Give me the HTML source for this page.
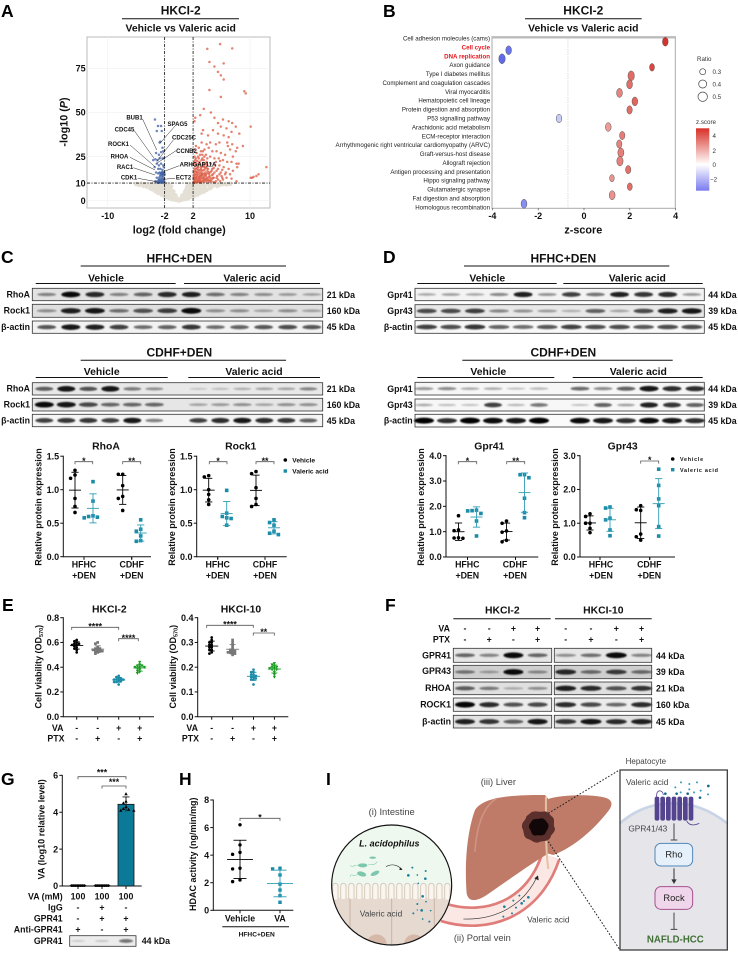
<!DOCTYPE html>
<html lang="en">
<head>
<meta charset="utf-8">
<title>Valeric acid figure panels</title>
<style>
html,body{margin:0;padding:0;background:#fff}
svg{display:block}
text{font-family:"Liberation Sans",sans-serif;fill:#111}
.letter{font-size:17.5px;font-weight:700;fill:#000}
.t12{font-size:12px;font-weight:700;text-anchor:middle}
.t10{font-size:10.4px;font-weight:700;text-anchor:middle}
.lab{font-size:8.8px;font-weight:700}
.r{text-anchor:end}
.m{text-anchor:middle}
.tick{font-size:9px;font-weight:700}
.ax{font-size:10.8px;font-weight:700;text-anchor:middle}
.ylab{font-size:9px;font-weight:700;text-anchor:middle}
.path{font-size:6.15px;text-anchor:end;fill:#222}
.gene{font-size:6px;font-weight:700;text-anchor:middle}
.small{font-size:6.6px;font-weight:700}
.leg{font-size:6.2px;fill:#333}
.ill{font-size:28px;fill:#444}
.rule{stroke:#111;stroke-width:1;fill:none}
</style>
</head>
<body>
<svg id="fig" xmlns="http://www.w3.org/2000/svg" width="738" height="953" viewBox="0 0 738 953">
<defs>
<filter id="bandBlur" x="-5%" y="-30%" width="110%" height="160%"><feGaussianBlur stdDeviation="0.75"/></filter>
<linearGradient id="zGrad" x1="0" y1="0" x2="0" y2="1">
<stop offset="0" stop-color="#d73027"/><stop offset="0.58" stop-color="#ffffff"/><stop offset="1" stop-color="#7b7bef"/>
</linearGradient>
<clipPath id="gutClip"><circle cx="275" cy="450" r="180"/></clipPath>
</defs>
<rect width="738" height="953" fill="#fff"/>

<!-- Panel letters -->
<text class="letter" x="1" y="17">A</text>
<text class="letter" x="383" y="17">B</text>
<text class="letter" x="1" y="263">C</text>
<text class="letter" x="383" y="263">D</text>
<text class="letter" x="2" y="611">E</text>
<text class="letter" x="385" y="611">F</text>
<text class="letter" x="1" y="785">G</text>
<text class="letter" x="179" y="785">H</text>
<text class="letter" x="326" y="785">I</text>

<!-- Panel A headings -->
<g>
<text class="t12" x="180.7" y="14.5">HKCI-2</text>
<line class="rule" x1="122" x2="239" y1="18.7" y2="18.7"/>
<text class="t10" x="180.7" y="31.5">Vehicle vs Valeric acid</text>
<text class="ax" x="179.3" y="233.5">log2 (fold change)</text>
<text class="ax" transform="translate(67.5,122) rotate(-90)">-log10 (<tspan font-style="italic">P</tspan>)</text>
</g>
<g id="volcano"></g>
<g id="volcanoGenes">
<text class="gene" x="134.5" y="119.5">BUB1</text>
<text class="gene" x="177.5" y="126">SPAG5</text>
<text class="gene" x="124.5" y="131.5">CDC45</text>
<text class="gene" x="184" y="139.5">CDC25C</text>
<text class="gene" x="118.5" y="146">ROCK1</text>
<text class="gene" x="186.5" y="153">CCNB2</text>
<text class="gene" x="119.5" y="158.5">RHOA</text>
<text class="gene" x="198" y="166.5">ARHGAP11A</text>
<text class="gene" x="125" y="169">RAC1</text>
<text class="gene" x="183.5" y="179.5">ECT2</text>
<text class="gene" x="129" y="179.5">CDK1</text>
</g>

<!-- Panel B headings -->
<g>
<text class="t12" x="583.3" y="14.5">HKCI-2</text>
<line class="rule" x1="525" x2="641.7" y1="18.7" y2="18.7"/>
<text class="t10" x="583.3" y="31.5">Vehicle vs Valeric acid</text>
<text class="ax" x="583.3" y="233.5">z-score</text>
</g>
<g id="bubble"></g>
<g>
<text class="leg" x="697" y="61">Ratio</text>
<circle cx="702.7" cy="71.7" r="3" fill="#fff" stroke="#444" stroke-width=".7"/>
<circle cx="702.7" cy="84" r="4" fill="#fff" stroke="#444" stroke-width=".7"/>
<circle cx="702.7" cy="96.7" r="4.7" fill="#fff" stroke="#444" stroke-width=".7"/>
<text class="leg" x="712.5" y="74">0.3</text>
<text class="leg" x="712.5" y="86.3">0.4</text>
<text class="leg" x="712.5" y="99">0.5</text>
</g>
<g>
<text class="leg" x="696" y="124">z.score</text>
<rect x="696" y="128.3" width="13.3" height="62.4" fill="url(#zGrad)"/>
<text class="leg" x="712.5" y="138.2">4</text>
<text class="leg" x="712.5" y="152.9">2</text>
<text class="leg" x="712.5" y="167.2">0</text>
<text class="leg" x="710" y="181.5">−2</text>
</g>

<!-- Panel C text -->
<g>
<text class="t12" x="179.3" y="262.5">HFHC+DEN</text>
<line class="rule" x1="80.7" x2="286" y1="266" y2="266"/>
<text class="t10" x="106" y="281.3">Vehicle</text>
<line class="rule" x1="35.7" x2="175.7" y1="283.5" y2="283.5"/>
<text class="t10" x="252" y="281.3">Valeric acid</text>
<line class="rule" x1="184" x2="320" y1="283.5" y2="283.5"/>
<text class="lab r" x="30" y="297.3">RhoA</text>
<text class="lab r" x="30" y="313.3">Rock1</text>
<text class="lab r" x="30" y="330">β-actin</text>
<text class="lab" x="326.7" y="298">21 kDa</text>
<text class="lab" x="326.7" y="314">160 kDa</text>
<text class="lab" x="326.7" y="330">45 kDa</text>
<text class="t12" x="179.3" y="356.7">CDHF+DEN</text>
<line class="rule" x1="80.7" x2="286" y1="360.3" y2="360.3"/>
<text class="t10" x="101.7" y="375">Vehicle</text>
<line class="rule" x1="35.7" x2="167.7" y1="377.5" y2="377.5"/>
<text class="t10" x="254" y="375">Valeric acid</text>
<line class="rule" x1="188.3" x2="320" y1="377.5" y2="377.5"/>
<text class="lab r" x="30" y="391.7">RhoA</text>
<text class="lab r" x="30" y="407.3">Rock1</text>
<text class="lab r" x="30" y="423.3">β-actin</text>
<text class="lab" x="326.7" y="392">21 kDa</text>
<text class="lab" x="326.7" y="408">160 kDa</text>
<text class="lab" x="326.7" y="424">45 kDa</text>
</g>

<!-- Panel D text -->
<g>
<text class="t12" x="563.3" y="262.5">HFHC+DEN</text>
<line class="rule" x1="464" x2="669.3" y1="266" y2="266"/>
<text class="t10" x="487.3" y="281.3">Vehicle</text>
<line class="rule" x1="417.3" x2="556.7" y1="283.5" y2="283.5"/>
<text class="t10" x="637.3" y="281.3">Valeric acid</text>
<line class="rule" x1="563.3" x2="702.7" y1="283.5" y2="283.5"/>
<text class="lab r" x="412.7" y="298">Gpr41</text>
<text class="lab r" x="412.7" y="314">Gpr43</text>
<text class="lab r" x="412.7" y="330">β-actin</text>
<text class="lab" x="708.3" y="298">44 kDa</text>
<text class="lab" x="708.3" y="314">39 kDa</text>
<text class="lab" x="708.3" y="330">45 kDa</text>
<text class="t12" x="563.3" y="356.7">CDHF+DEN</text>
<line class="rule" x1="462.3" x2="672.7" y1="360.3" y2="360.3"/>
<text class="t10" x="488.3" y="375">Vehicle</text>
<line class="rule" x1="417.3" x2="554.3" y1="377.5" y2="377.5"/>
<text class="t10" x="638.3" y="375">Valeric acid</text>
<line class="rule" x1="572.7" x2="702.7" y1="377.5" y2="377.5"/>
<text class="lab r" x="412.7" y="392">Gpr41</text>
<text class="lab r" x="412.7" y="408">Gpr43</text>
<text class="lab r" x="412.7" y="423.5">β-actin</text>
<text class="lab" x="708.3" y="392">44 kDa</text>
<text class="lab" x="708.3" y="408">39 kDa</text>
<text class="lab" x="708.3" y="424">45 kDa</text>
</g>
<g id="blots"></g>

<!-- Dot chart text -->
<g>
<text class="t10" x="106" y="449.5">RhoA</text>
<text class="t10" x="240.7" y="449.5">Rock1</text>
<text class="t10" x="489.3" y="449.5">Gpr41</text>
<text class="t10" x="622.7" y="449.5">Gpr43</text>
<text class="ylab" transform="translate(41.5,507) rotate(-90)">Relative protein expression</text>
<text class="ylab" transform="translate(175,507) rotate(-90)">Relative protein expression</text>
<text class="ylab" transform="translate(424,507) rotate(-90)">Relative protein expression</text>
<text class="ylab" transform="translate(558,507) rotate(-90)">Relative protein expression</text>
<text class="lab m" x="84" y="567.3">HFHC<tspan x="84" dy="11">+DEN</tspan></text>
<text class="lab m" x="131.7" y="567.3">CDHF<tspan x="131.7" dy="11">+DEN</tspan></text>
<text class="lab m" x="217.7" y="567.3">HFHC<tspan x="217.7" dy="11">+DEN</tspan></text>
<text class="lab m" x="265" y="567.3">CDHF<tspan x="265" dy="11">+DEN</tspan></text>
<text class="lab m" x="467.3" y="567.3">HFHC<tspan x="467.3" dy="11">+DEN</tspan></text>
<text class="lab m" x="515" y="567.3">CDHF<tspan x="515" dy="11">+DEN</tspan></text>
<text class="lab m" x="601" y="567.3">HFHC<tspan x="601" dy="11">+DEN</tspan></text>
<text class="lab m" x="649.3" y="567.3">CDHF<tspan x="649.3" dy="11">+DEN</tspan></text>
<circle cx="285.3" cy="460" r="1.8" fill="#000"/>
<rect x="283.6" y="469.3" width="3.4" height="3.4" fill="#1a8ca8"/>
<text class="small" x="292.3" y="462.3">Vehicle</text>
<text class="small" x="292.3" y="473.3">Valeric acid</text>
<circle cx="672.7" cy="459" r="1.8" fill="#000"/>
<rect x="671" y="468" width="3.4" height="3.4" fill="#1a8ca8"/>
<text font-size="5.4" font-weight="700" letter-spacing=".75" x="680" y="461">Vehicle</text>
<text font-size="5.4" font-weight="700" letter-spacing=".75" x="680" y="471.8">Valeric acid</text>
</g>
<g id="dotCharts"></g>

<!-- Panel E text -->
<g>
<text class="t10" x="109.3" y="612.3">HKCI-2</text>
<text class="t10" x="241" y="612.3">HKCI-10</text>
<text class="ylab" transform="translate(41.5,666.7) rotate(-90)">Cell viability (OD<tspan font-size="5.5" dy="1.5">570</tspan><tspan dy="-1.5">)</tspan></text>
<text class="ylab" transform="translate(176,666.7) rotate(-90)">Cell viability (OD<tspan font-size="5.5" dy="1.5">570</tspan><tspan dy="-1.5">)</tspan></text>
<text class="lab r" x="63.5" y="731">VA</text>
<text class="lab r" x="64.5" y="741.5">PTX</text>
<text class="lab r" x="198" y="731">VA</text>
<text class="lab r" x="199" y="741.5">PTX</text>
</g>
<g id="eFlags"></g>

<!-- Panel F text -->
<g>
<text class="t10" x="502.3" y="613.3">HKCI-2</text>
<line class="rule" x1="453.3" x2="550.7" y1="618.7" y2="618.7"/>
<text class="t10" x="603.3" y="613.3">HKCI-10</text>
<line class="rule" x1="555" x2="651.7" y1="618.7" y2="618.7"/>
<text class="lab r" x="450" y="631.7">VA</text>
<text class="lab r" x="450" y="642.3">PTX</text>
<text class="lab r" x="451" y="658.5">GPR41</text>
<text class="lab r" x="451" y="674">GPR43</text>
<text class="lab r" x="451" y="691">RHOA</text>
<text class="lab r" x="451" y="707.5">ROCK1</text>
<text class="lab r" x="451" y="724.5">β-actin</text>
<text class="lab" x="656" y="659">44 kDa</text>
<text class="lab" x="656" y="675">39 kDa</text>
<text class="lab" x="656" y="691.5">21 kDa</text>
<text class="lab" x="656" y="708">160 kDa</text>
<text class="lab" x="656" y="725">45 kDa</text>
</g>
<g id="fFlags"></g>

<!-- Panel G text -->
<g>
<text class="ylab" transform="translate(44.5,829.3) rotate(-90)">VA (log10 relative level)</text>
<text class="lab r" x="62.7" y="899.3">VA (mM)</text>
<text class="lab r" x="62.7" y="910.7">IgG</text>
<text class="lab r" x="62.7" y="921.7">GPR41</text>
<text class="lab r" x="62.7" y="932.3">Anti-GPR41</text>
<text class="lab r" x="62.7" y="944">GPR41</text>
<text class="lab" x="141.7" y="944">44 kDa</text>
</g>
<g id="gFlags"></g>
<g id="barChart"></g>

<!-- Panel H text -->
<g>
<text class="ylab" transform="translate(196,854.3) rotate(-90)">HDAC activity (ng/min/mg)</text>
<text class="lab m" x="240" y="921.7">Vehicle</text>
<text class="lab m" x="280" y="921.7">VA</text>
<line class="rule" x1="222.3" x2="289" y1="926.7" y2="926.7"/>
<text class="small m" x="256.7" y="936.3">HFHC+DEN</text>
</g>

<!-- Panel I illustration -->
<g transform="translate(300,735) scale(.33333)">
<path d="M430 532 C560 572 700 522 752 365" fill="none" stroke="#df7d7a" stroke-width="62"/>
<path d="M430 532 C560 572 700 522 752 365" fill="none" stroke="#fbe7e4" stroke-width="46"/>
<path d="M525 225 C545 195 600 178 735 180 L745 192 C790 178 880 178 915 188 C940 195 938 212 925 228 C885 280 825 335 760 360 L745 356 C705 378 640 425 560 480 C530 500 505 502 500 475 C494 400 498 300 525 225 Z" fill="#bf7a68"/>
<path d="M738 185 C738 230 735 340 745 402" fill="none" stroke="#e2c3a4" stroke-width="6"/>
<path d="M590 190 C550 215 530 270 525 350" fill="none" stroke="#cf9383" stroke-width="5"/>
<path d="M690 235 C700 224 720 232 728 230 C742 226 748 238 755 244 C768 252 758 268 764 278 C768 292 754 296 752 306 C745 322 728 316 716 322 C702 326 694 314 684 312 C668 306 674 292 667 280 C662 262 676 258 678 248 C680 240 686 240 690 235Z" fill="#5a2f2c"/>
<path d="M695 258 C702 248 712 254 722 250 C734 248 738 260 744 266 C750 280 738 286 736 296 C726 306 716 298 706 302 C692 300 696 288 688 280 C684 268 692 266 695 258Z" fill="#120708"/>
<path d="M490 552 C590 555 670 510 710 428" fill="none" stroke="#222" stroke-width="1.8"/>
<path d="M703 430 L714 421 L716 436 Z" fill="#222"/>
<g fill="#1b7f9e">
<circle cx="613" cy="515" r="4"/><circle cx="636" cy="535" r="3"/><circle cx="648" cy="518" r="3"/><circle cx="665" cy="505" r="4"/><circle cx="685" cy="487" r="4"/><circle cx="658" cy="482" r="3"/><circle cx="672" cy="498" r="3"/><circle cx="640" cy="497" r="3"/><circle cx="610" cy="545" r="3"/>
</g>
<circle cx="275" cy="450" r="180" fill="#eef8ee"/>
<g clip-path="url(#gutClip)">
<rect x="90" y="490" width="370" height="150" fill="#e5d9d0"/>
<path d="M98 500 V455 Q98 445 106 445 Q114 445 114 455 V492 M122 492 V455 Q122 445 130 445 Q138 445 138 455 V492 M146 492 V455 Q146 445 154 445 Q162 445 162 455 V492 M170 492 V455 Q170 445 178 445 Q186 445 186 455 V492 M194 492 V455 Q194 445 202 445 Q210 445 210 455 V492 M218 492 V455 Q218 445 226 445 Q234 445 234 455 V492 M242 492 V455 Q242 445 250 445 Q258 445 258 455 V492 M266 492 V455 Q266 445 274 445 Q282 445 282 455 V492 M290 492 V455 Q290 445 298 445 Q306 445 306 455 V492 M314 492 V455 Q314 445 322 445 Q330 445 330 455 V492 M338 492 V455 Q338 445 346 445 Q354 445 354 455 V492 M362 492 V455 Q362 445 370 445 Q378 445 378 455 V492 M386 492 V455 Q386 445 394 445 Q402 445 402 455 V492 M410 492 V455 Q410 445 418 445 Q426 445 426 455 V492 M434 492 V455 Q434 445 442 445 Q450 445 450 455 V500" fill="#faf6ef" stroke="#d9c9bb" stroke-width="3"/>
<rect x="90" y="494" width="370" height="6" fill="#e5d9d0"/>
<path d="M150 490 V625 M275 490 V640 M403 490 V620" stroke="#ccb3a6" stroke-width="3" fill="none"/>
<ellipse cx="230" cy="628" rx="30" ry="30" fill="#d6b8a8"/>
<ellipse cx="342" cy="628" rx="30" ry="30" fill="#d6b8a8"/>
</g>
<circle cx="275" cy="450" r="180" fill="none" stroke="#111" stroke-width="3.5"/>
<g fill="#7cc7ae">
<ellipse cx="188" cy="391" rx="14" ry="6"/><ellipse cx="185" cy="417" rx="14" ry="7" transform="rotate(15 185 417)"/><ellipse cx="225" cy="415" rx="14" ry="6" transform="rotate(-25 225 415)"/><ellipse cx="218" cy="368" rx="10" ry="3.5"/>
<path d="M174 392 C160 385 165 400 150 392 M172 418 C160 430 155 410 150 425 M205 390 C215 385 220 395 232 380" fill="none" stroke="#7cc7ae" stroke-width="1.6"/>
</g>
<path d="M258 395 C275 385 292 390 305 402" fill="none" stroke="#222" stroke-width="1.8"/>
<path d="M300 398 L308 405 L298 405Z" fill="#222"/>
<g fill="#1b7f9e">
<circle cx="325" cy="421" r="4"/><circle cx="337" cy="398" r="3"/><circle cx="352" cy="420" r="2.5"/><circle cx="377" cy="408" r="3"/><circle cx="376" cy="431" r="4"/><circle cx="355" cy="445" r="2.5"/><circle cx="368" cy="484" r="4"/><circle cx="352" cy="507" r="3"/><circle cx="378" cy="500" r="2.5"/><circle cx="365" cy="526" r="4"/><circle cx="340" cy="535" r="3"/><circle cx="392" cy="527" r="2.5"/><circle cx="368" cy="552" r="2.5"/><circle cx="388" cy="560" r="3"/><circle cx="352" cy="525" r="2"/>
</g>
<line x1="745" y1="235" x2="958" y2="105" stroke="#222" stroke-width="3" stroke-dasharray="5 5"/>
<line x1="745" y1="320" x2="958" y2="642" stroke="#222" stroke-width="3" stroke-dasharray="5 5"/>
<rect x="960" y="105" width="322" height="540" fill="#e6e6ea"/>
<path d="M960 105 H1282 V265 C1230 225 1180 205 1120 205 C1060 205 1005 225 960 265Z" fill="#fff"/>
<path d="M960 265 C1005 225 1060 205 1120 205 C1180 205 1230 225 1282 265" fill="none" stroke="#c9d4e6" stroke-width="8"/>
<rect x="960" y="105" width="322" height="540" fill="none" stroke="#444" stroke-width="4"/>
<g fill="#54438f">
<rect x="1064" y="185" width="14" height="72" rx="6"/><rect x="1081" y="185" width="14" height="72" rx="6"/><rect x="1098" y="185" width="14" height="72" rx="6"/><rect x="1115" y="185" width="14" height="72" rx="6"/><rect x="1132" y="185" width="14" height="72" rx="6"/><rect x="1149" y="185" width="14" height="72" rx="6"/><rect x="1166" y="185" width="14" height="72" rx="6"/>
<path d="M1070 185 C1068 160 1090 165 1090 180 M1160 258 C1170 275 1185 270 1198 265" fill="none" stroke="#54438f" stroke-width="2.5"/>
</g>
<g fill="#2d9ac0">
<circle cx="1143" cy="142" r="3"/><circle cx="1191" cy="142" r="3"/><circle cx="1126" cy="157" r="3"/><circle cx="1168" cy="147" r="3"/><circle cx="1225" cy="153" r="4" fill="#136a8c"/><circle cx="1202" cy="167" r="3"/><circle cx="1224" cy="178" r="3"/><circle cx="1182" cy="172" r="3"/><circle cx="1142" cy="172" r="3"/><circle cx="1200" cy="188" r="4" fill="#136a8c"/><circle cx="1168" cy="163" r="3"/><circle cx="1096" cy="176" r="4" fill="#136a8c"/><circle cx="1130" cy="176" r="4" fill="#136a8c"/><circle cx="1163" cy="176" r="4" fill="#136a8c"/>
</g>
<text class="ill" style="font-size:24px" x="977" y="87">Hepatocyte</text>
<text class="ill" style="font-size:25px" x="978" y="150">Valeric acid</text>
<text class="ill" style="font-size:25px" x="985" y="290">GPR41/43</text>
<path d="M1122 265 V315 M1112 315 H1132" stroke="#444" stroke-width="3" fill="none"/>
<rect x="1065" y="325" width="113" height="68" rx="18" fill="#e6f0fa" stroke="#4f86b8" stroke-width="3"/>
<text class="ill m" style="fill:#222" x="1122" y="368">Rho</text>
<path d="M1122 400 V436" stroke="#333" stroke-width="3"/>
<path d="M1114 433 H1130 L1122 447Z" fill="#333"/>
<rect x="1065" y="455" width="113" height="68" rx="18" fill="#f0d6ea" stroke="#a64f8f" stroke-width="3"/>
<text class="ill m" style="fill:#222" x="1122" y="498">Rock</text>
<path d="M1122 533 V583 M1112 583 H1132" stroke="#444" stroke-width="3" fill="none"/>
<text class="m" style="font-size:29px;font-weight:700;fill:#3f6f35" x="1126" y="622">NAFLD-HCC</text>
<text class="ill m" x="595" y="150">(iii) Liver</text>
<text class="ill m" x="275" y="240">(i) Intestine</text>
<text class="m" style="font-size:27px;font-weight:700;font-style:italic;fill:#111" x="268" y="334">L. acidophilus</text>
<text class="ill m" style="font-size:25px" x="243" y="545">Valeric acid</text>
<text class="ill m" style="font-size:25px" x="745" y="563">Valeric acid</text>
<text class="ill m" x="547" y="618">(ii) Portal vein</text>
</g>

<script>
/* ---------- Volcano data: [log2 fold change, -log10 P] ---------- */
const volcanoUp = [[5.8,88.7],[4,86],[7.5,86.3],[4.3,78.6],[6.3,77.8],[5,76],[5.5,73],[5.9,71],[6.3,68.7],[4.3,62.7],[9.2,62],[9.4,60.8],[5.9,58.8],[3.5,52],[4.5,50],[2.3,47],[3,48.5],[2.2,45],[5,47],[5.5,44],[6.2,46],[7,45],[7.5,44],[8,42],[6.7,41],[5.9,42],[3.4,40],[3.2,38],[4.1,37],[4.8,40],[5.5,38],[6.3,37],[7.4,39],[7,36],[10.1,42],[8.5,38],[9,31],[8.2,30],[7.5,32],[6.8,33],[6.9,31],[7.2,29],[5.7,33],[5.2,32],[4.4,33],[3.9,32],[3.2,33],[2.4,31],[2.8,30],[2.1,29],[2.5,27],[3.1,28],[3.6,29],[4.2,30],[4.7,28],[5.3,28],[5.9,27],[6.5,26],[7.6,25],[8,28],[2.2,25],[2.7,25],[3.3,24],[3.8,26],[4.4,25],[5,24],[5.6,24],[6.2,23],[6.8,22],[7.4,22],[8.1,21],[8.4,21],[8.2,19],[2.3,23],[2.9,22],[3.4,21],[3.9,22],[4.5,21],[5.1,20],[5.7,20],[6.3,19],[7,18],[7.6,17],[12.3,19],[11.2,15],[10.9,14],[10.5,13.5],[10.1,13],[10.3,13],[8.1,11],[2.1,21],[2.6,20],[3.1,19],[3.6,19],[4.1,18],[4.7,18],[5.3,17],[5.9,16],[6.6,16],[7.2,15],[2.2,18],[2.7,17.5],[3.2,17],[3.7,16],[4.2,16],[4.8,15],[5.4,14],[6,14],[6.7,13],[7.4,12.5],[2.1,16],[2.5,15.5],[2.9,15],[3.3,14.5],[3.8,14],[4.3,14],[4.9,13],[5.5,12],[6.2,12],[2.1,14],[2.4,13.5],[2.8,13],[3.2,13],[3.6,12.5],[4.1,12],[4.6,12],[5.2,11],[5.8,11],[2.1,12.5],[2.3,12],[2.6,11.5],[3,11.5],[3.4,11],[3.8,11],[4.3,10.8],[4.9,10.5],[2.1,11],[2.3,10.6],[2.5,10.4],[2.8,10.5],[3.1,10.3],[3.5,10.4],[2.05,10.2],[2.2,10.1],[2.4,16.5],[2.6,18.5],[3,20.5],[3.5,23],[4,24],[2.4,21],[3.3,26],[2.9,12],[3.4,13],[3.9,12.8],[2.2,15],[2.6,14],[3.1,16],[3.6,15],[4.4,13],[5,16],[4.6,17],[4,20],[2.8,24],[2.3,19.5],[2.15,10.6],[2.25,11.4],[2.35,12.6],[2.45,13],[2.55,10.8],[2.65,12.2],[2.75,11.1],[2.85,13.6],[2.95,10.9],[3.05,12.6],[3.15,14.2],[3.25,11.3],[3.35,15.5],[3.45,12.1],[3.55,13.7],[3.65,11.6],[3.75,14.8],[3.85,12.2],[3.95,15.4],[4.05,11.3],[4.15,13.3],[4.25,15.2],[4.35,11.6],[4.45,16.2],[4.55,10.9],[4.65,14.4],[4.75,12.8],[2.12,13.2],[2.22,16.8],[2.32,14.6],[2.42,18],[2.52,16.4],[2.62,15],[2.72,19],[2.82,16.2],[2.92,17.4],[3.02,14],[3.12,18],[3.22,15.2],[3.32,19.4],[3.42,17.2],[3.52,20],[3.62,17.6],[3.72,18.8],[3.82,20.8],[3.92,18.4],[4.02,16.8],[2.18,22],[2.38,24],[2.58,22.5],[2.78,21],[2.98,26],[3.18,23],[3.38,28],[3.58,25],[5.3,13],[5.7,15],[6.1,13],[6.5,15],[4.9,18.5],[5.2,22],[5.5,18],[5.8,22.5],[6.1,17.5]];
const volcanoDown = [[-3.36,46],[-2.93,42.3],[-2.5,42.3],[-3.1,39.5],[-2.4,39.5],[-2.7,33],[-2.3,30],[-2.6,33.5],[-2.2,28],[-3.2,27],[-2.8,26],[-2.5,27.5],[-3.6,23],[-3.3,23.5],[-3,23],[-2.7,24],[-2.3,24],[-2.1,24],[-3.1,21],[-2.8,20],[-2.5,21],[-2.2,20],[-3.4,19],[-2.9,18],[-2.6,18],[-2.3,17.5],[-2.1,19],[-3.2,16],[-2.9,15.5],[-2.7,16],[-2.5,15],[-2.4,15],[-2.3,15.5],[-2.2,15.2],[-2.1,15],[-2,14.8],[-2.6,14.5],[-2.4,14],[-2.2,14],[-3.1,13],[-2.8,12.5],[-2.5,12.5],[-2.3,12],[-2.1,12.5],[-3.3,11],[-3,11],[-2.8,10.8],[-2.6,10.6],[-2.4,10.4],[-2.2,10.6],[-2.05,11],[-2.9,10.2],[-2.5,10.2],[-2.15,10.2],[-3.2,10.4],[-2.7,13.5],[-2.3,13],[-2.45,15.6],[-2.35,16.2],[-2.25,16],[-2.15,15.8],[-2.05,15.6],[-2.55,15.8],[-2.4,11.2],[-2.3,11],[-2.2,11.4],[-2.6,11.6],[-2.7,11.2],[-2.85,11.6],[-2.1,10.8],[-2.35,10.6],[-2.45,10.8]];
const volcanoNull = [[-6,9.5],[-5.6,9],[-5.3,9.6],[-5,8.5],[-4.8,9.4],[-4.5,8],[-4.3,9.2],[-4,7],[-4,8.8],[-3.7,6.5],[-3.7,8.5],[-3.5,9.6],[-3.3,5.5],[-3.2,7.5],[-3.1,9],[-2.9,4.5],[-2.8,6.5],[-2.7,8.3],[-2.6,9.6],[-2.4,3.5],[-2.4,5.5],[-2.3,7.5],[-2.2,9],[-2,2.5],[-2,4.5],[-1.9,6.5],[-1.9,8.5],[-1.7,2],[-1.7,3.5],[-1.6,5.5],[-1.6,7.5],[-1.5,9.5],[-1.3,1.5],[-1.3,3],[-1.2,4.5],[-1.2,6.5],[-1.1,8],[-1,1],[-0.9,2.2],[-0.9,3.8],[-0.8,5.2],[-0.7,0.8],[-0.6,1.8],[-0.5,3],[-0.35,0.5],[-0.3,1.2],[0,0.15],[0.3,0.5],[0.35,1.3],[0.5,0.8],[0.5,2.8],[0.7,1.6],[0.8,3.6],[0.9,0.9],[0.9,5],[1,2.2],[1.1,6.5],[1.2,3.2],[1.2,8],[1.3,1.4],[1.4,4.6],[1.5,6.2],[1.5,9.3],[1.6,2.2],[1.7,7.7],[1.8,3.6],[1.9,5.4],[1.9,9],[2.1,2.6],[2.2,7],[2.3,4.2],[2.4,9.3],[2.6,3.5],[2.7,5.8],[2.8,7.8],[3,4.5],[3.1,9.2],[3.3,6.5],[3.5,5.2],[3.6,8.2],[3.9,6.2],[4.1,9.4],[4.4,7.2],[4.7,8.4],[5,9.4],[5.4,8.4],[5.8,9.2],[6.2,9.5],[6.7,9.3],[7.2,9.6]];
const volcanoXTicks = [-10,-2,2,10];
const volcanoXTickLabels = ["-10","-2","2","10"];
const volcanoYTicks = [0,10,25,50,75];
const volcanoYTickLabels = ["0","10","25","50","75"];

/* ---------- Pathway bubble data ---------- */
const pathwayNames = ["Cell adhesion molecules (cams)","Cell cycle","DNA replication","Axon guidance","Type I diabetes mellitus","Complement and coagulation cascades","Viral myocarditis","Hematopoietic cell lineage","Protein digestion and absorption","P53 signalling pathway","Arachidonic acid metabolism","ECM-receptor interaction","Arrhythmogenic right ventricular cardiomyopathy (ARVC)","Graft-versus-host disease","Allograft rejection","Antigen processing and presentation","Hippo signaling pathway","Glutamatergic synapse","Fat digestion and absorption","Homologous recombination"];
const pathwayZ = [3.55,-3.29,-3.58,2.97,2.06,1.99,1.55,2.22,1.99,-1.09,1.06,1.67,1.54,1.61,1.57,1.93,1.22,2.0,1.23,-2.62];
const pathwayRatio = [0.4,0.4,0.5,0.3,0.5,0.42,0.42,0.4,0.35,0.38,0.4,0.35,0.35,0.45,0.48,0.35,0.27,0.3,0.42,0.42];
const bubbleXTicks = [-4,-2,0,2,4];
const bubbleXTickLabels = ["-4","-2","0","2","4"];

/* ---------- Protein expression data ---------- */
const rhoaTicks = [0,0.5,1,1.5];
const rhoaTickLabels = ["0.0","0.5","1.0","1.5"];
const rhoaHfhcVehicle = [1.29,1.22,1.17,0.87,0.75,0.66];
const rhoaHfhcValeric = [1.12,0.83,0.61,0.60,0.59,0.58];
const rhoaCdhfVehicle = [1.23,1.23,1.06,0.90,0.87,0.69];
const rhoaCdhfValeric = [0.55,0.41,0.38,0.31,0.24,0.23];
const rock1HfhcVehicle = [1.21,1.19,1.0,0.93,0.85,0.78];
const rock1HfhcValeric = [0.99,0.65,0.60,0.58,0.57,0.47];
const rock1CdhfVehicle = [1.27,1.24,1.03,0.87,0.78,0.75];
const rock1CdhfValeric = [0.55,0.51,0.47,0.38,0.35,0.33];
const gpr41Ticks = [0,1,2,3,4];
const gpr41TickLabels = ["0.0","1.0","2.0","3.0","4.0"];
const gpr41HfhcVehicle = [1.63,1.07,1.04,0.76,0.75,0.74];
const gpr41HfhcValeric = [1.85,1.83,1.72,1.42,1.82,0.83];
const gpr41CdhfVehicle = [1.42,1.33,1.03,0.98,0.66,0.60];
const gpr41CdhfValeric = [3.25,3.25,3.13,2.32,1.75,1.55];
const gpr43Ticks = [0,1,2,3];
const gpr43TickLabels = ["0.0","1.0","2.0","3.0"];
const gpr43HfhcVehicle = [1.28,1.2,1.0,1.0,0.85,0.72];
const gpr43HfhcValeric = [1.48,1.45,1.15,1.1,0.8,0.63];
const gpr43CdhfVehicle = [1.52,1.4,1.38,0.68,0.6,0.5];
const gpr43CdhfValeric = [2.6,2.12,1.72,1.52,0.9,0.62];

/* ---------- Cell viability data ---------- */
const viab2Ticks = [0,0.2,0.4,0.6,0.8];
const viab2TickLabels = ["0.0","0.2","0.4","0.6","0.8"];
const viab10Ticks = [0,0.1,0.2,0.3,0.4];
const viab10TickLabels = ["0.0","0.1","0.2","0.3","0.4"];
const viab2Control = [0.62,0.61,0.60,0.59,0.59,0.58,0.58,0.57,0.56,0.55,0.54,0.52];
const viab2Ptx = [0.60,0.59,0.56,0.55,0.55,0.54,0.54,0.53,0.53,0.53,0.52,0.51];
const viab2Va = [0.33,0.32,0.31,0.31,0.30,0.30,0.30,0.29,0.29,0.28,0.28,0.26];
const viab2VaPtx = [0.44,0.42,0.41,0.41,0.40,0.40,0.40,0.39,0.38,0.37,0.36,0.35];
const viab10Control = [0.32,0.31,0.30,0.30,0.29,0.29,0.28,0.28,0.27,0.27,0.26,0.255];
const viab10Ptx = [0.31,0.30,0.29,0.28,0.27,0.27,0.265,0.26,0.26,0.26,0.255,0.25];
const viab10Va = [0.19,0.18,0.18,0.17,0.17,0.165,0.16,0.16,0.155,0.15,0.15,0.13];
const viab10VaPtx = [0.215,0.21,0.205,0.20,0.20,0.195,0.195,0.19,0.19,0.18,0.17,0.16];
const eVaFlags = ["-","-","+","+"];
const ePtxFlags = ["-","+","-","+"];

/* ---------- VA bar and HDAC data ---------- */
const vaBarMeans = [0.02,0.02,4.43];
const vaBarSd = [0,0,0.4];
const vaPoints1 = [0.02,0.02,0.02,0.02,0.02,0.02,0.02,0.02];
const vaPoints2 = [0.02,0.02,0.02,0.02,0.02,0.02,0.02,0.02];
const vaPoints3 = [5.0,4.6,4.5,4.3,4.2,4.15,4.1,4.1];
const vaTicks = [0,2,4,6];
const vaTickLabels = ["0","2","4","6"];
const gRowVa = ["100","100","100"];
const gRowIgg = ["-","+","-"];
const gRowGpr41 = ["-","+","+"];
const gRowAnti = ["+","-","+"];
const hdacTicks = [0,2,4,6,8];
const hdacTickLabels = ["0","2","4","6","8"];
const hdacVehicle = [6.2,4.74,4.2,4.06,3.05,3.0,2.2,2.08];
const hdacVa = [3.05,3.0,2.56,1.9,1.47,1.06,0.58];

/* ---------- Blot band intensities per lane ---------- */
const cTopRhoA = [0.35,0.95,0.8,0.35,0.5,0.8,0.85,0.45,0.35,0.3,0.25,0.2];
const cTopRock1 = [0.3,0.85,0.9,0.45,0.6,0.7,0.95,0.3,0.3,0.2,0.3,0.2];
const cTopActin = [0.6,0.9,0.85,0.7,0.5,0.55,0.75,0.5,0.55,0.6,0.65,0.6];
const cBotRhoA = [0.55,0.9,0.6,0.9,0.4,0.3,0.05,0.08,0.15,0.2,0.2,0.35];
const cBotRock1 = [0.95,0.9,0.65,0.5,0.5,0.5,0.2,0.25,0.3,0.2,0.3,0.3];
const cBotActin = [0.7,0.75,0.75,0.7,0.9,0.4,0.7,0.8,0.9,0.8,0.75,0.55];
const dTopGpr41 = [0.2,0.25,0.2,0.35,0.85,0.3,0.7,0.45,0.85,0.75,0.8,0.28];
const dTopGpr43 = [0.65,0.65,0.7,0.35,0.3,0.25,0.15,0.55,0.2,0.65,0.85,0.9];
const dTopActin = [0.7,0.65,0.75,0.55,0.5,0.6,0.7,0.65,0.65,0.6,0.65,0.65];
const dBotGpr41 = [0.3,0.35,0.2,0.2,0.1,0.15,0.5,0.35,0.55,0.9,0.8,0.8];
const dBotGpr43 = [0.2,0.12,0.1,0.7,0.15,0.45,0.1,0.55,0.25,0.85,0.75,0.55];
const dBotActin = [1,0.8,1,0.95,0.9,1,0.95,0.9,0.8,0.95,0.9,0.8];
const fGpr41A = [0.5,0.35,0.95,0.5];
const fGpr41B = [0.3,0.45,0.95,0.35];
const fGpr43A = [0.4,0.2,0.95,0.3];
const fGpr43B = [0.8,0.45,0.7,0.45];
const fRhoaA = [0.55,0.4,0.15,0.3];
const fRhoaB = [0.85,0.8,0.6,0.75];
const fRock1A = [0.98,0.8,0.6,0.65];
const fRock1B = [0.8,0.65,0.5,0.8];
const fActinA = [0.85,0.75,0.55,0.9];
const fActinB = [0.75,0.9,0.8,0.85];
const gBlot = [0.03,0.06,0.45];

const TEAL = "#1a8ca8";
const NS = "http://www.w3.org/2000/svg";
function el(tag, attrs, parent){
  const n = document.createElementNS(NS, tag);
  for (const k in attrs) n.setAttribute(k, attrs[k]);
  parent.appendChild(n);
  return n;
}
function label(parent, str, x, y, cls, name){
  const t = el('text', {x:x, y:y, class:cls}, parent);
  t.textContent = str;
  
  
  return t;
}
function stroke(parent, x1, y1, x2, y2, color, w, name, dash){
  const l = el('line', {x1:x1, y1:y1, x2:x2, y2:y2, stroke:color, 'stroke-width':w}, parent);
  if (dash) l.setAttribute('stroke-dasharray', dash);
  
  
  return l;
}

/* ---------- Panel A: volcano ---------- */
(function(){
  const g = document.getElementById('volcano');
  const xA = v => 178.85 + 7.115 * v;
  const yA = v => 200.7 - 1.765 * v;
  const box = el('rect', {x:87, y:37, width:183, height:171, fill:'#fff', stroke:'#bbb', 'stroke-width':1}, g);
  
  
  volcanoXTicks.forEach((t, i) => {
    stroke(g, xA(t), 37, xA(t), 208, '#f0f0f0', .6, 'volcano-x-gridline');
    label(g, volcanoXTickLabels[i], xA(t), 219, 'tick m', 'volcano-x-tick-label');
  });
  volcanoYTicks.forEach((t, i) => {
    stroke(g, 87, yA(t), 270, yA(t), '#f0f0f0', .6, 'volcano-y-gridline');
    label(g, volcanoYTickLabels[i], 85.7, yA(t) + 3.2, 'tick r', 'volcano-y-tick-label');
  });
  volcanoNull.forEach(p => {
    const c = el('circle', {cx:xA(p[0]), cy:yA(p[1]), r:2.4, fill:'#e5e0d5'}, g);
    
    
  });
  volcanoUp.forEach(p => {
    const c = el('circle', {cx:xA(p[0]), cy:yA(p[1]), r:1.25, fill:'#dc5a42', opacity:.75}, g);
    
    
  });
  volcanoDown.forEach(p => {
    const c = el('circle', {cx:xA(p[0]), cy:yA(p[1]), r:1.25, fill:'#4464a8', opacity:.78}, g);
    
    
  });
  stroke(g, 87, yA(10), 270, yA(10), '#111', .8, 'p-threshold-line', '3 1.5 1 1.5');
  stroke(g, xA(-2), 37, xA(-2), 208, '#111', .8, 'fc-threshold-low', '3 1.5 1 1.5');
  stroke(g, xA(2), 37, xA(2), 208, '#111', .8, 'fc-threshold-high', '3 1.5 1 1.5');
  const leaders = document.getElementById('volcanoGenes');
  const seg = (a,b,c,d) => stroke(leaders, a, b, c, d, '#222', .5, 'gene-leader-line');
  seg(142.7,119.3,156.7,150); seg(175,126,160,143.3); seg(134.3,130.7,154,158.3);
  seg(173.3,140,156.7,161.7); seg(130,145,155,166.7); seg(176,150.7,156.7,163.3);
  seg(130,157.3,155,170); seg(179.3,165.7,163.3,171.7); seg(133.3,167.7,155,175);
  seg(175,178.3,163.3,179.3); seg(137.7,178.3,156.7,181.7);
})();

/* ---------- Panel B: bubbles ---------- */
(function(){
  const g = document.getElementById('bubble');
  const xB = v => 584 + 22.9 * v;
  const bubbleRow = i => 41.7 + 8.53 * i;
  const labelRow = i => 40.5 + 8.89 * i;
  const box = el('rect', {x:492, y:36.7, width:183.3, height:171.6, fill:'#fff', stroke:'#aaa', 'stroke-width':1}, g);
  
  
  stroke(g, xB(-0.7), 37, xB(-0.7), 208, '#ccc', .8, 'bubble-reference-line', '1.2 1.2');
  stroke(g, 492, 37.5, 675, 37.5, '#bbb', 2, 'bubble-top-band');
  const colour = z => {
    const mix = (a,b,t) => Math.round(a + (b-a)*t);
    if (z >= 0) { const t = Math.min(1, Math.pow(z/3.6, 0.6)); return `rgb(${mix(255,215,t)},${mix(255,48,t)},${mix(255,39,t)})`; }
    const t = Math.min(1, Math.pow(-z/3.6, 0.9)); return `rgb(${mix(255,95,t)},${mix(255,105,t)},${mix(255,235,t)})`;
  };
  pathwayNames.forEach((n, i) => {
    const red = i === 1 || i === 2;
    const t = label(g, n, 490, labelRow(i), 'path', 'pathway-label');
    if (red) { t.setAttribute('style', 'fill:#e8141c;font-weight:700'); }
    const r = 6.65 * Math.sqrt(pathwayRatio[i]);
    const e = el('ellipse', {cx:xB(pathwayZ[i]), cy:bubbleRow(i), rx:r*0.68, ry:r*1.05, fill:colour(pathwayZ[i]), stroke:'#555', 'stroke-width':.5}, g);
    
    
  });
  bubbleXTicks.forEach((t, i) => {
    label(g, bubbleXTickLabels[i], xB(t), 219, 'tick m', 'bubble-x-tick-label');
    stroke(g, xB(t), 208.3, xB(t), 210.3, '#333', .6, 'bubble-x-tick');
  });
})();

/* ---------- Western blots ---------- */
function blot(name, x, y, w, h, bg, bands, laneStart, laneStep, gap, bandW){
  const root = document.getElementById('blots');
  const g = el('g', {}, root);
  
  
  const r = el('rect', {x:x, y:y, width:w, height:h, fill:bg}, g);
  
  
  const bandsG = el('g', {filter:'url(#bandBlur)'}, g);
  bands.forEach((v, i) => {
    const half = Math.floor(bands.length / 2);
    const cx = laneStart + i * laneStep + (i >= half ? gap : 0);
    const e = el('ellipse', {cx:cx, cy:y + h/2, rx:bandW/2, ry:0.9 + v*2.1, fill:'#000', opacity:(0.12 + v*0.88).toFixed(2)}, bandsG);
    
    
  });
  const f = el('rect', {x:x, y:y, width:w, height:h, fill:'none', stroke:'#333', 'stroke-width':.8}, g);
  
  
}
blot('c-hfhc-rhoa-blot', 32.3, 288.3, 290.4, 12.4, '#e2e2e2', cTopRhoA, 46.7, 24.1, 0, 19);
blot('c-hfhc-rock1-blot', 32.3, 304.3, 290.4, 13, '#dfdfdf', cTopRock1, 46.7, 24.1, 0, 20);
blot('c-hfhc-actin-blot', 32.3, 321, 290.4, 12.3, '#f3f3f3', cTopActin, 46.7, 24.1, 0, 19);
blot('c-cdhf-rhoa-blot', 32.3, 382.7, 290.4, 12.3, '#e8e8e8', cBotRhoA, 44.3, 22, 22, 18);
blot('c-cdhf-rock1-blot', 32.3, 398.3, 290.4, 12.7, '#e6e6e6', cBotRock1, 44.3, 22, 22, 19);
blot('c-cdhf-actin-blot', 32.3, 414.3, 290.4, 12.4, '#f5f5f5', cBotActin, 44.3, 22, 22, 18);
blot('d-hfhc-gpr41-blot', 415, 288.3, 289.3, 12.4, '#f3f3f3', dTopGpr41, 426.7, 24.1, 0, 19);
blot('d-hfhc-gpr43-blot', 415, 304.7, 289.3, 12.6, '#e8e8e8', dTopGpr43, 426.7, 24.1, 0, 20);
blot('d-hfhc-actin-blot', 415, 320.7, 289.3, 12.6, '#f8f8f8', dTopActin, 426.7, 24.1, 0, 21);
blot('d-cdhf-gpr41-blot', 415, 382.3, 289.3, 12.7, '#f6f6f6', dBotGpr41, 424, 23, 18, 19);
blot('d-cdhf-gpr43-blot', 415, 399, 289.3, 12, '#f7f7f7', dBotGpr43, 424, 23, 18, 18);
blot('d-cdhf-actin-blot', 415, 414.3, 289.3, 12.7, '#fbfbfb', dBotActin, 424, 23, 18, 20);
const fRows = [[648.3,14,'#e6e6e6',fGpr41A,fGpr41B,'gpr41'],[665.3,13.4,'#cfcfcf',fGpr43A,fGpr43B,'gpr43'],[682,12.7,'#e0e0e0',fRhoaA,fRhoaB,'rhoa'],[698,13.3,'#ececec',fRock1A,fRock1B,'rock1'],[715.3,12.7,'#e2e2e2',fActinA,fActinB,'actin']];
fRows.forEach(row => {
  blot('f-' + row[5] + '-hkci2-blot', 453.3, row[0], 98.4, row[1], row[2], row[3], 465, 24.2, 0, 20);
  blot('f-' + row[5] + '-hkci10-blot', 554.3, row[0], 97.4, row[1], row[2], row[4], 565.7, 25.3, 0, 21);
});
blot('g-gpr41-blot', 69.7, 935.7, 66.3, 10.6, '#ececec', gBlot, 78, 24, 0, 14);

/* ---------- Dot plots ---------- */
function swarm(values, minDist, step, unit){
  const placed = [];
  return values.map(v => {
    let best = 0;
    const y = v * unit;
    for (let k = 0; k < 12; k++) {
      const off = k === 0 ? 0 : (k % 2 ? -1 : 1) * Math.ceil(k/2) * step;
      if (placed.every(p => Math.hypot(p[0]-off, p[1]-y) >= minDist)) { best = off; break; }
    }
    placed.push([best, y]);
    return best;
  });
}
function meanOf(a){ return a.reduce((s,v) => s+v, 0) / a.length; }
function sdOf(a){ const m = meanOf(a); return Math.sqrt(a.reduce((s,v) => s+(v-m)*(v-m), 0) / (a.length-1)); }
function marker(g, shape, x, y, r, color, name){
  let n;
  if (shape === 'square') n = el('rect', {x:x-r, y:y-r, width:2*r, height:2*r, fill:color}, g);
  else if (shape === 'tridown') n = el('path', {d:`M${x-r-.3} ${y-r} H${x+r+.3} L${x} ${y+r+.3}Z`, fill:color}, g);
  else if (shape === 'triup') n = el('path', {d:`M${x-r-.3} ${y+r} H${x+r+.3} L${x} ${y-r-.3}Z`, fill:color}, g);
  else n = el('circle', {cx:x, cy:y, r:r, fill:color}, g);
  
  
}
function axes(g, s){
  const yS = v => s.y0 - s.unit * v;
  stroke(g, s.axisX, yS(s.ticks[0]) + .5, s.axisX, yS(s.ticks[s.ticks.length-1]) - .5, '#111', 1, s.name + '-y-axis');
  stroke(g, s.axisX, s.y0, s.axisEnd, s.y0, '#111', 1, s.name + '-x-axis');
  s.ticks.forEach((t, i) => {
    stroke(g, s.axisX - 3, yS(t), s.axisX, yS(t), '#111', 1, s.name + '-y-tick');
    label(g, s.tickLabels[i], s.axisX - 4.2, yS(t) + 3.2, 'tick r', s.name + '-y-tick-label');
  });
  return yS;
}
function bracket(g, name, x1, x2, y, stars, gap){
  const p = el('path', {d:`M${x1} ${y+2.6} V${y} H${x2} V${y+2.6}`, fill:'none', stroke:'#555', 'stroke-width':.8}, g);
  
  
  label(g, stars, (x1+x2)/2, y + (gap || 2.2), 'lab m', name + '-significance');
}
function dotChart(s){
  const root = document.getElementById('dotCharts');
  const g = el('g', {}, root);
  
  
  const yS = axes(g, s);
  const xCat = i => s.catStart + s.catStep * i;
  s.groups.forEach(gr => {
    const cx = xCat(gr.cat) + gr.dodge;
    const mean = meanOf(gr.vals), sd = sdOf(gr.vals);
    const lineColor = gr.line || gr.color;
    stroke(g, xCat(gr.cat), s.y0, xCat(gr.cat), s.y0 + 3, '#111', 1, s.name + '-x-tick');
    const off = swarm(gr.vals, s.minDist, s.step, s.unit);
    gr.vals.forEach((v, i) => marker(g, gr.shape, cx + off[i], yS(v), s.r, gr.color, s.name + '-data-point'));
    stroke(g, cx, yS(mean+sd), cx, yS(mean-sd), lineColor, .9, s.name + '-error-bar');
    stroke(g, cx - s.capW, yS(mean+sd), cx + s.capW, yS(mean+sd), lineColor, .9, s.name + '-error-cap');
    stroke(g, cx - s.capW, yS(mean-sd), cx + s.capW, yS(mean-sd), lineColor, .9, s.name + '-error-cap');
    stroke(g, cx - s.meanW, yS(mean), cx + s.meanW, yS(mean), lineColor, .9, s.name + '-mean-line');
  });
  (s.brackets || []).forEach(b => bracket(g, s.name, b[0], b[1], b[2], b[3]));
}
const swarmDots = {minDist:4.3, step:4.4, r:1.8, capW:3.6, meanW:6};
const black = '#000';
const ltTeal = '#2f9db5';
dotChart(Object.assign({name:'rhoa', axisX:63.3, axisEnd:151, y0:556.7, unit:67, ticks:rhoaTicks, tickLabels:rhoaTickLabels, catStart:84, catStep:47.7,
  groups:[{vals:rhoaHfhcVehicle,cat:0,dodge:-9,color:black,shape:'circle'},{vals:rhoaHfhcValeric,cat:0,dodge:9,color:TEAL,line:ltTeal,shape:'square'},{vals:rhoaCdhfVehicle,cat:1,dodge:-9,color:black,shape:'circle'},{vals:rhoaCdhfValeric,cat:1,dodge:9,color:TEAL,line:ltTeal,shape:'square'}],
  brackets:[[75,92.7,461.7,'*'],[122.7,140.7,461.7,'**']]}, swarmDots));
dotChart(Object.assign({name:'rock1', axisX:196.7, axisEnd:286.7, y0:556.7, unit:67, ticks:rhoaTicks, tickLabels:rhoaTickLabels, catStart:217.7, catStep:47.3,
  groups:[{vals:rock1HfhcVehicle,cat:0,dodge:-9,color:black,shape:'circle'},{vals:rock1HfhcValeric,cat:0,dodge:9,color:TEAL,line:ltTeal,shape:'square'},{vals:rock1CdhfVehicle,cat:1,dodge:-9,color:black,shape:'circle'},{vals:rock1CdhfValeric,cat:1,dodge:9,color:TEAL,line:ltTeal,shape:'square'}],
  brackets:[[209.3,227,461.7,'*'],[256,274,461.7,'**']]}, swarmDots));
dotChart(Object.assign({name:'gpr41', axisX:446, axisEnd:538.3, y0:557, unit:25.33, ticks:gpr41Ticks, tickLabels:gpr41TickLabels, catStart:467.5, catStep:48,
  groups:[{vals:gpr41HfhcVehicle,cat:0,dodge:-9,color:black,shape:'circle'},{vals:gpr41HfhcValeric,cat:0,dodge:9,color:TEAL,line:ltTeal,shape:'square'},{vals:gpr41CdhfVehicle,cat:1,dodge:-9,color:black,shape:'circle'},{vals:gpr41CdhfValeric,cat:1,dodge:9,color:TEAL,line:ltTeal,shape:'square'}],
  brackets:[[458.3,476.7,461.7,'*'],[506.7,524.7,461.7,'**']]}, swarmDots));
dotChart(Object.assign({name:'gpr43', axisX:580, axisEnd:675, y0:557, unit:33.77, ticks:gpr43Ticks, tickLabels:gpr43TickLabels, catStart:600, catStep:49.7,
  groups:[{vals:gpr43HfhcVehicle,cat:0,dodge:-10,color:black,shape:'circle'},{vals:gpr43HfhcValeric,cat:0,dodge:10,color:TEAL,line:ltTeal,shape:'square'},{vals:gpr43CdhfVehicle,cat:1,dodge:-9,color:black,shape:'circle'},{vals:gpr43CdhfValeric,cat:1,dodge:9,color:TEAL,line:ltTeal,shape:'square'}],
  brackets:[[640.7,658.7,461,'*']]}, swarmDots));
const tightDots = {minDist:2.2, step:2.3, r:1.35, capW:3, meanW:6.5};
const eGroups = (a,b,c,d) => [{vals:a,cat:0,dodge:0,color:'#000',shape:'circle'},{vals:b,cat:1,dodge:0,color:'#777',shape:'square'},{vals:c,cat:2,dodge:0,color:TEAL,shape:'circle'},{vals:d,cat:3,dodge:0,color:'#169a1e',shape:'tridown'}];
dotChart(Object.assign({name:'viability-hkci2', axisX:63.3, axisEnd:154, y0:716.7, unit:123.75, ticks:viab2Ticks, tickLabels:viab2TickLabels, catStart:76.7, catStep:21,
  groups:eGroups(viab2Control,viab2Ptx,viab2Va,viab2VaPtx),
  brackets:[[71.7,118.7,627.3,'****'],[118.7,138.3,638.7,'****']]}, tightDots));
dotChart(Object.assign({name:'viability-hkci10', axisX:197.7, axisEnd:288.3, y0:716.7, unit:247.5, ticks:viab10Ticks, tickLabels:viab10TickLabels, catStart:211.7, catStep:20.9,
  groups:eGroups(viab10Control,viab10Ptx,viab10Va,viab10VaPtx),
  brackets:[[206.7,253.3,625.3,'****'],[253.3,274.3,633,'**']]}, tightDots));
dotChart(Object.assign({name:'hdac', axisX:213.3, axisEnd:293.3, y0:910.3, unit:13.79, ticks:hdacTicks, tickLabels:hdacTickLabels, catStart:240, catStep:40,
  groups:[{vals:hdacVehicle,cat:0,dodge:0,color:black,shape:'circle'},{vals:hdacVa,cat:1,dodge:0,color:TEAL,line:ltTeal,shape:'square'}],
  brackets:[[240,280,818.3,'*']]}, {minDist:5.2, step:3.7, r:1.7, capW:6.5, meanW:13}));

/* ---------- Panel G: bar chart ---------- */
(function(){
  const g = document.getElementById('barChart');
  const spec = {name:'va', axisX:62.3, axisEnd:141.7, y0:886, unit:18.44, ticks:vaTicks, tickLabels:vaTickLabels};
  const yS = axes(g, spec);
  const xCat = i => 78 + 24 * i;
  [vaPoints1, vaPoints2, vaPoints3].forEach((pts, i) => {
    const x = xCat(i);
    stroke(g, x, 886, x, 889, '#111', 1, 'va-x-tick');
    const b = el('rect', {x:x-8, y:yS(vaBarMeans[i]), width:16, height:Math.max(.3, 886-yS(vaBarMeans[i])), fill:'#0b7a99', stroke:'#111', 'stroke-width':.8}, g);
    
    
    if (vaBarSd[i] > 0) {
      stroke(g, x, yS(vaBarMeans[i]+vaBarSd[i]), x, yS(vaBarMeans[i]-vaBarSd[i]), '#111', .9, 'va-error-bar');
      stroke(g, x-3.5, yS(vaBarMeans[i]+vaBarSd[i]), x+3.5, yS(vaBarMeans[i]+vaBarSd[i]), '#111', .9, 'va-error-cap');
    }
    const off = swarm(pts, 3, 2.6, spec.unit);
    pts.forEach((v, j) => {
      const dx = (pts === vaPoints3) ? off[j] : (j - 3.5) * 1.8;
      marker(g, pts === vaPoints3 ? 'triup' : 'circle', x + dx, yS(v), 1.4, '#000', 'va-data-point');
    });
  });
  bracket(g, 'va-outer', xCat(0), xCat(2), 776.7, '***', -1);
  bracket(g, 'va-inner', xCat(1), xCat(2), 786, '***', -1);
})();

/* ---------- Treatment rows ---------- */
function flagRow(parentId, name, values, start, step, y){
  const p = document.getElementById(parentId);
  values.forEach((v, i) => {
    label(p, v, start + step * i, y, 'lab m', name);
  });
}
flagRow('eFlags', 'e-va-flag', eVaFlags, 76.7, 21, 731);
flagRow('eFlags', 'e-ptx-flag', ePtxFlags, 76.7, 21, 741.5);
flagRow('eFlags', 'e-va-flag', eVaFlags, 211.7, 20.9, 731);
flagRow('eFlags', 'e-ptx-flag', ePtxFlags, 211.7, 20.9, 741.5);
flagRow('fFlags', 'f-va-flag', eVaFlags, 465, 24.2, 631.7);
flagRow('fFlags', 'f-ptx-flag', ePtxFlags, 465, 24.2, 642.3);
flagRow('fFlags', 'f-va-flag', eVaFlags, 565.7, 25.3, 631.7);
flagRow('fFlags', 'f-ptx-flag', ePtxFlags, 565.7, 25.3, 642.3);
flagRow('gFlags', 'g-va-dose', gRowVa, 78, 24, 899.3);
flagRow('gFlags', 'g-igg-flag', gRowIgg, 78, 24, 910.7);
flagRow('gFlags', 'g-gpr41-flag', gRowGpr41, 78, 24, 921.7);
flagRow('gFlags', 'g-anti-gpr41-flag', gRowAnti, 78, 24, 932.3);
</script>
</svg>
</body>
</html>
